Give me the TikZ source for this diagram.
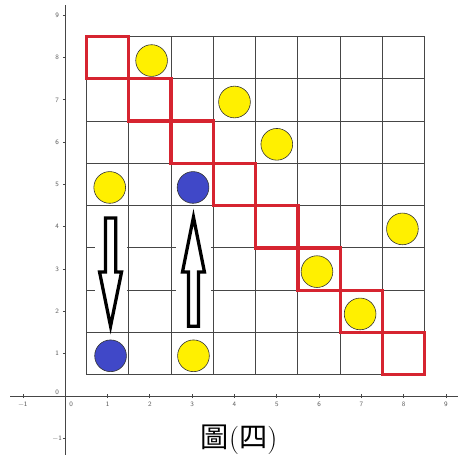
\documentclass[tikz,border=0pt]{standalone}
\usepackage{fontspec}
\newfontfamily\cjk{Noto Sans CJK TC}
\definecolor{cellred}{RGB}{214,36,48}
\definecolor{dotyellow}{RGB}{255,240,0}
\definecolor{dotblue}{RGB}{64,72,200}
\definecolor{axisgray}{RGB}{70,70,70}
\definecolor{labelgray}{RGB}{90,90,90}
\begin{document}
\begin{tikzpicture}[
        gridline/.style={draw=axisgray, line width=0.6pt},
        axis/.style={draw=axisgray, line width=0.6pt},
        ticklabel/.style={text=labelgray, font=\sffamily\fontsize{4.5}{5}\selectfont, inner sep=0pt},
        redcell/.style={draw=cellred, line width=2.2pt, minimum size=1cm, inner sep=0pt},
        yellowdot/.style={circle, draw=black!80, fill=dotyellow, line width=0.4pt, minimum size=0.75cm, inner sep=0pt},
        bluedot/.style={circle, draw=black!80, fill=dotblue, line width=0.4pt, minimum size=0.75cm, inner sep=0pt},
        blockarrow/.style={draw=black, fill=white, line width=2.2pt, line join=miter},
        caption/.style={font=\fontsize{19}{20}\selectfont, inner sep=0pt}
    ]

    \useasboundingbox (-1.544,-1.395) rectangle (9.284,9.362);

    % Axes
    \draw[axis] (-1.3,0) -- (9.284,0);
    \draw[axis] (0,-1.395) -- (0,9.24);
    \foreach \i in {-1,1,2,...,9} {
        \draw[axis] (\i,-0.05) -- (\i,0.05);
        \node[ticklabel] (xl\i) at (\i,-0.19) {\ifnum\i<0 \textminus1\else\i\fi};
        \draw[axis] (-0.06,\i) -- (0,\i);
        \node[ticklabel] (yl\i) at (-0.19,\i) {\ifnum\i<0 \textminus1\else\i\fi};
    }
    \node[ticklabel] (xl0) at (0.14,-0.19) {0};
    \node[ticklabel] (yl0) at (-0.19,0.09) {0};

    % Board
    \draw[gridline, shift={(0.5,0.5)}] (0,0) grid (8,8);
    \fill[white] (0.7,1.55) rectangle (1.45,4.43);
    \fill[white] (2.62,1.55) rectangle (3.44,4.43);

    % Red diagonal
    \node[redcell] (r1) at (1,8) {};
    \node[redcell] (r2) at (2,7) {};
    \node[redcell] (r3) at (3,6) {};
    \node[redcell] (r4) at (4,5) {};
    \node[redcell] (r5) at (5,4) {};
    \node[redcell] (r6) at (6,3) {};
    \node[redcell] (r7) at (7,2) {};
    \node[redcell] (r8) at (8,1) {};

    % Yellow counters
    \node[yellowdot] (y1) at (2.04,7.93) {};
    \node[yellowdot] (y2) at (4,6.95) {};
    \node[yellowdot] (y3) at (5,5.95) {};
    \node[yellowdot] (y4) at (1.05,4.93) {};
    \node[yellowdot] (y5) at (7.97,3.95) {};
    \node[yellowdot] (y6) at (5.95,2.94) {};
    \node[yellowdot] (y7) at (6.97,1.94) {};
    \node[yellowdot] (y8) at (3.03,0.95) {};

    % Blue counters
    \node[bluedot] (b1) at (3.02,4.93) {};
    \node[bluedot] (b2) at (1.07,0.95) {};

    % Arrows
    \draw[blockarrow] (0.95,4.21) -- (1.19,4.21) -- (1.19,2.93) -- (1.33,2.93)
        -- (1.07,1.65) -- (0.81,2.93) -- (0.95,2.93) -- cycle;
    \draw[blockarrow] (2.91,1.65) -- (3.15,1.65) -- (3.15,2.93) -- (3.29,2.93)
        -- (3.03,4.23) -- (2.77,2.93) -- (2.91,2.93) -- cycle;

    % Caption
    \node[caption] (title) at (4.11,-1.03) {{\cjk 圖}({\cjk 四})};

\end{tikzpicture}
\end{document}
